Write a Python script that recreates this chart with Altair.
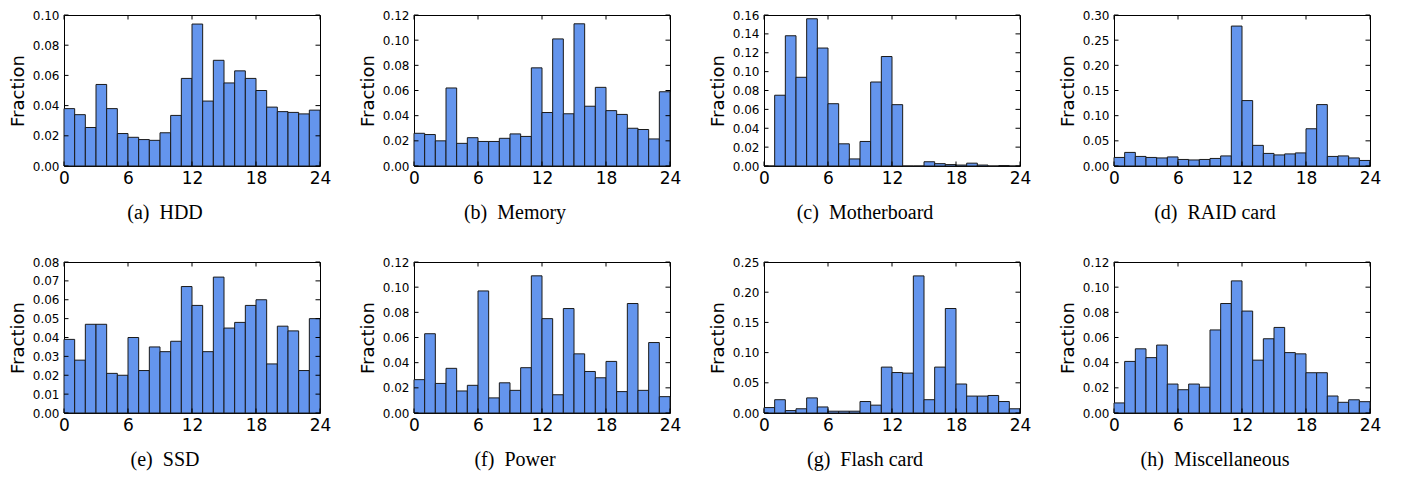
import altair as alt
import pandas as pd

hours = list(range(24))
x_ticks = [0, 6, 12, 18, 24]

hdd = [0.038, 0.034, 0.0255, 0.054, 0.038, 0.0215, 0.019, 0.0175, 0.017, 0.022, 0.0335, 0.058,
       0.094, 0.043, 0.070, 0.055, 0.063, 0.058, 0.050, 0.039, 0.036, 0.0355, 0.0345, 0.037]
memory = [0.026, 0.025, 0.020, 0.062, 0.018, 0.0225, 0.0195, 0.0195, 0.022, 0.0255, 0.0235, 0.078,
          0.0425, 0.101, 0.0415, 0.113, 0.0475, 0.0625, 0.044, 0.041, 0.030, 0.029, 0.0215, 0.059]
motherboard = [0.0, 0.075, 0.138, 0.094, 0.156, 0.125, 0.066, 0.0235, 0.0075, 0.026, 0.089, 0.116,
               0.065, 0.0, 0.0, 0.0045, 0.0025, 0.0015, 0.001, 0.003, 0.001, 0.0, 0.0005, 0.0]
raid = [0.017, 0.027, 0.019, 0.017, 0.016, 0.018, 0.013, 0.012, 0.013, 0.015, 0.020, 0.278,
        0.130, 0.041, 0.025, 0.022, 0.024, 0.026, 0.074, 0.122, 0.019, 0.020, 0.016, 0.011]
ssd = [0.039, 0.028, 0.047, 0.047, 0.021, 0.020, 0.040, 0.0225, 0.035, 0.0325, 0.038, 0.067,
       0.057, 0.0325, 0.072, 0.045, 0.048, 0.057, 0.060, 0.026, 0.046, 0.0435, 0.0225, 0.050]
power = [0.0265, 0.063, 0.0235, 0.0355, 0.0175, 0.022, 0.097, 0.012, 0.024, 0.018, 0.036, 0.109,
         0.075, 0.0145, 0.083, 0.047, 0.033, 0.028, 0.041, 0.017, 0.087, 0.018, 0.056, 0.013]
flash = [0.009, 0.022, 0.004, 0.007, 0.025, 0.010, 0.003, 0.003, 0.003, 0.019, 0.013, 0.076,
         0.067, 0.066, 0.227, 0.022, 0.076, 0.173, 0.048, 0.028, 0.028, 0.029, 0.019, 0.007]
misc = [0.008, 0.041, 0.051, 0.044, 0.054, 0.023, 0.0185, 0.023, 0.0205, 0.066, 0.087, 0.105,
        0.081, 0.042, 0.059, 0.068, 0.048, 0.047, 0.032, 0.032, 0.0135, 0.0085, 0.0105, 0.009]

ticks_010 = [0.00, 0.02, 0.04, 0.06, 0.08, 0.10]
ticks_012 = [0.00, 0.02, 0.04, 0.06, 0.08, 0.10, 0.12]
ticks_016 = [0.00, 0.02, 0.04, 0.06, 0.08, 0.10, 0.12, 0.14, 0.16]
ticks_030 = [0.00, 0.05, 0.10, 0.15, 0.20, 0.25, 0.30]
ticks_008 = [0.00, 0.01, 0.02, 0.03, 0.04, 0.05, 0.06, 0.07, 0.08]
ticks_025 = [0.00, 0.05, 0.10, 0.15, 0.20, 0.25]

panels = [
    ("(a)", "HDD", hdd, ticks_010),
    ("(b)", "Memory", memory, ticks_012),
    ("(c)", "Motherboard", motherboard, ticks_016),
    ("(d)", "RAID card", raid, ticks_030),
    ("(e)", "SSD", ssd, ticks_008),
    ("(f)", "Power", power, ticks_012),
    ("(g)", "Flash card", flash, ticks_025),
    ("(h)", "Miscellaneous", misc, ticks_012),
]

W, H = 256, 151
TL = 4.5
SANS = "DejaVu Sans"
SERIF = "Liberation Serif"


def make_panel(tag, name, vals, yticks):
    xsc = alt.Scale(domain=[0, 24], nice=False, zero=False)
    ysc = alt.Scale(domain=[0, yticks[-1]], nice=False)
    xaxis = alt.Axis(values=x_ticks, title=None, ticks=False, domain=False, grid=False,
                     labelFontSize=17, labelFont=SANS, labelColor="black", labelPadding=4,
                     labelFlush=False, labelAngle=0)
    yaxis = alt.Axis(values=yticks, format=".2f", title="Fraction", ticks=False, domain=False,
                     grid=False, labelFontSize=12, labelFont=SANS, labelColor="black",
                     labelPadding=5, titleFont=SANS, titleFontSize=18, titleFontWeight="normal",
                     titleColor="black", titlePadding=5)
    df = pd.DataFrame({"hour": hours, "hour_end": [h + 1 for h in hours], "frac": vals})
    bars = alt.Chart(df).mark_bar(fill="#6495ED", stroke="#1a1a1a", strokeWidth=1).encode(
        x=alt.X("hour:Q", scale=xsc, axis=xaxis),
        x2="hour_end",
        y=alt.Y("frac:Q", scale=ysc, axis=yaxis),
        y2=alt.datum(0),
    )
    ydf = pd.DataFrame({"frac": yticks})
    xdf = pd.DataFrame({"hour": x_ticks})
    rule = dict(color="black", strokeWidth=1)
    left = alt.Chart(ydf).mark_rule(**rule).encode(
        y=alt.Y("frac:Q", scale=ysc, axis=yaxis), x=alt.value(0), x2=alt.value(TL))
    right = alt.Chart(ydf).mark_rule(**rule).encode(
        y=alt.Y("frac:Q", scale=ysc, axis=yaxis), x=alt.value(W - TL), x2=alt.value(W))
    bottom = alt.Chart(xdf).mark_rule(**rule).encode(
        x=alt.X("hour:Q", scale=xsc, axis=xaxis), y=alt.value(H), y2=alt.value(H - TL))
    top = alt.Chart(xdf).mark_rule(**rule).encode(
        x=alt.X("hour:Q", scale=xsc, axis=xaxis), y=alt.value(0), y2=alt.value(TL))
    return alt.layer(bars, left, right, bottom, top).properties(
        width=W, height=H,
        title=alt.TitleParams(text=f"{tag}\u00a0\u00a0{name}", orient="bottom", anchor="middle",
                              font=SERIF, fontSize=20, fontWeight="normal", color="black",
                              offset=17, dx=-27),
    )


charts = [make_panel(*p) for p in panels]

chart = alt.concat(*charts, columns=4, spacing={"row": 96, "column": 94}, bounds="flush").properties(
    padding={"left": 0, "top": 0, "right": 5, "bottom": 5},
    background="white",
).configure_view(stroke="black", strokeWidth=1)

chart.save("out.html", embed_options={"renderer": "svg", "actions": False})
